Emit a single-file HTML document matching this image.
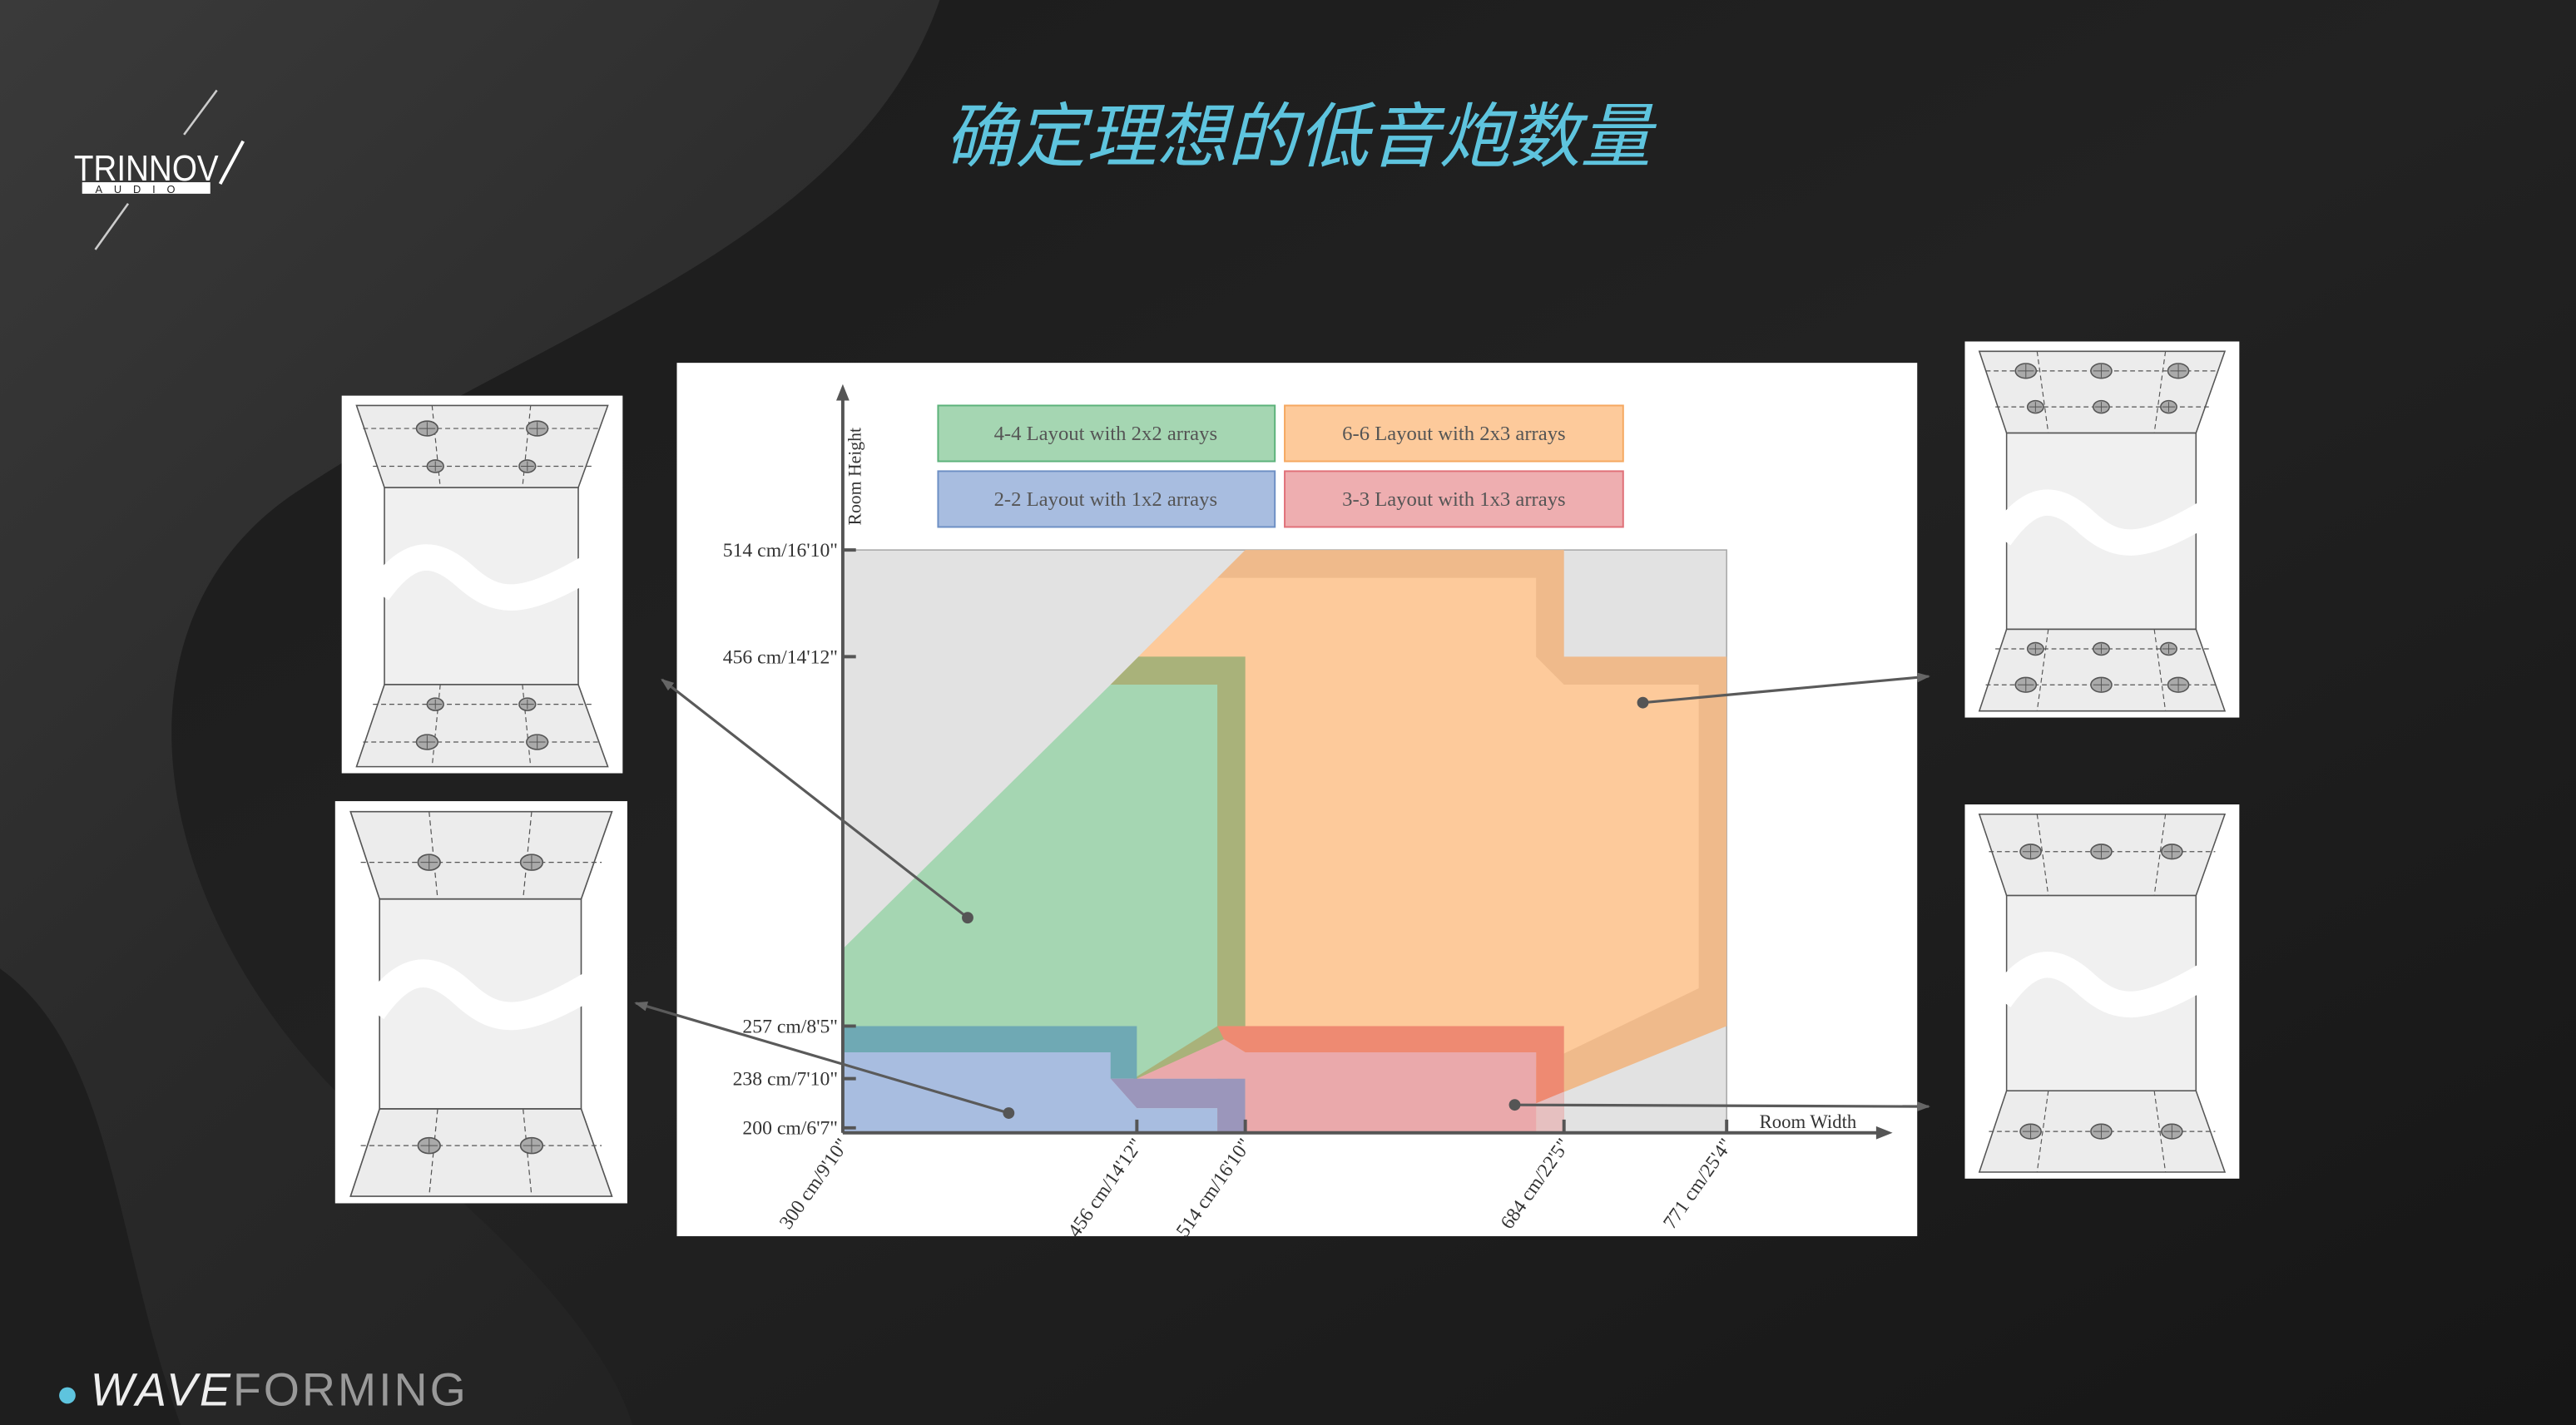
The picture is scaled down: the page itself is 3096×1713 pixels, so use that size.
<!DOCTYPE html>
<html><head><meta charset="utf-8"><style>
html,body{margin:0;padding:0;background:#1b1b1b;}
svg{display:block}
</style></head><body>
<svg width="3096" height="1713" viewBox="0 0 1568 868" preserveAspectRatio="none" xmlns="http://www.w3.org/2000/svg">
<defs>
<linearGradient id="bg" x1="0" y1="0" x2="1" y2="1">
<stop offset="0" stop-color="#1a1a1a"/><stop offset="0.5" stop-color="#222"/><stop offset="1" stop-color="#161616"/>
</linearGradient>
<linearGradient id="sw" x1="0" y1="0" x2="0.6" y2="1">
<stop offset="0" stop-color="#3a3a3a"/><stop offset="0.6" stop-color="#2a2a2a"/><stop offset="1" stop-color="#232323"/>
</linearGradient>
<marker id="ar" markerWidth="8" markerHeight="8" refX="7" refY="4" orient="auto" markerUnits="userSpaceOnUse"><path d="M0,1 L8,4 L0,7 Z" fill="#666"/></marker>
<g id="spk"><ellipse cx="0" cy="0" rx="6.5" ry="4.5" fill="#aaa" stroke="#555" stroke-width="0.8"/><path d="M-5,0 H5 M0,-4 V4" stroke="#555" stroke-width="0.5"/></g>
<g id="spks"><ellipse cx="0" cy="0" rx="5" ry="3.8" fill="#aaa" stroke="#555" stroke-width="0.8"/><path d="M-4,0 H4 M0,-3 V3" stroke="#555" stroke-width="0.5"/></g>
<g id="frame">
<rect x="0" y="0" width="171" height="230" fill="#fff"/>
<path d="M9,6 H162 L144,56 H26 Z" fill="#ececec" stroke="#555" stroke-width="0.8"/>
<rect x="26" y="56" width="118" height="120" fill="#f0f0f0" stroke="#555" stroke-width="0.8"/>
<path d="M26,176 H144 L162,226 H9 Z" fill="#ececec" stroke="#555" stroke-width="0.8"/>
<path d="M22,120 C40,95 55,92 75,110 C95,128 110,128 150,105" fill="none" stroke="#fff" stroke-width="16"/>
</g>
</defs>
<rect width="1568" height="868" fill="url(#bg)"/>
<path d="M0,0 L572,0 C520,150 330,200 180,300 C60,380 90,560 220,680 C320,760 370,820 385,868 L0,868 Z" fill="url(#sw)"/>
<path d="M0,590 C70,640 70,760 110,868 L0,868 Z" fill="#1e1e1e"/>

<!-- logo -->
<path d="M132,55 L112,82" stroke="#ccc" stroke-width="1.3"/>
<path d="M78,124 L58,152" stroke="#ccc" stroke-width="1.3"/>
<text x="45" y="110" font-family="Liberation Sans, sans-serif" font-size="22" fill="#fff" textLength="88" lengthAdjust="spacingAndGlyphs">TRINNOV</text>
<path d="M134,112 L148,86" stroke="#fff" stroke-width="2"/>
<rect x="50" y="111" width="78" height="7" fill="#fff"/>
<text x="58" y="117.5" font-family="Liberation Sans, sans-serif" font-size="6.5" fill="#222" letter-spacing="7">AUDIO</text>

<text x="790" y="98" text-anchor="middle" font-family="Liberation Sans, 'Noto Sans CJK SC', sans-serif" font-size="43" font-style="italic" fill="#5ec4de" textLength="430" lengthAdjust="spacingAndGlyphs">确定理想的低音炮数量</text>

<circle cx="41" cy="850" r="5" fill="#5ec4de"/>
<text x="55" y="856" font-family="Liberation Sans, sans-serif" font-size="28" letter-spacing="1.5" textLength="230" lengthAdjust="spacingAndGlyphs"><tspan fill="#eee" font-style="italic">WAVE</tspan><tspan fill="#999">FORMING</tspan></text>

<!-- chart -->
<rect x="412" y="221" width="755" height="532" fill="#fff"/>
<rect x="513" y="335" width="538" height="355" fill="#e2e2e2" stroke="#aaa" stroke-width="0.8"/>
<path d="M676,417 L758,335 L952,335 L952,400 L1051,400 L1051,625 L935,672 L935,690 L741,690 L741,417 Z" fill="#efba8b"/>
<path d="M741,352 L935,352 L935,400 L952,417 L1034,417 L1034,602 L935,650 L935,690 L758,690 L758,400 L693,400 Z" fill="#fdca9b"/>
<path d="M693,400 L758,400 L758,628 L690,660 L676,417 Z" fill="#a9b27a"/>
<path d="M513,578 L676,417 L741,417 L741,625 L690,657 L513,657 Z" fill="#a5d6b2"/>
<path d="M513,625 L692,625 L692,657 L513,657 Z" fill="#6fa9b4"/>
<path d="M513,641 L676,641 L676,657 L692,675 L741,675 L741,690 L513,690 Z" fill="#a8bde0"/>
<path d="M676,657 L758,657 L758,690 L741,690 L741,675 L692,675 Z" fill="#9b96bb"/>
<path d="M741,625 L952,625 L952,690 L935,690 L935,641 L758,641 L745,633 Z" fill="#ee8a72"/>
<path d="M692,657 L745,633 L758,641 L935,641 L935,690 L758,690 L758,657 Z" fill="#eaa9ab"/>
<path d="M935,672 L952,665 L952,690 L935,690 Z" fill="#e6c0c0"/>

<!-- axes -->
<path d="M513,690 V238" stroke="#555" stroke-width="2"/>
<path d="M509,244 L513,234 L517,244" fill="#555"/>
<path d="M513,690 H1145" stroke="#555" stroke-width="2"/>
<path d="M1142,686 L1152,690 L1142,694 Z" fill="#555"/>
<g stroke="#555" stroke-width="2">
<path d="M513,335 H521 M513,400 H521 M513,625 H521 M513,657 H521 M513,687 H521"/>
<path d="M692,682 V690 M758,682 V690 M952,682 V690 M1051,682 V690"/>
</g>
<g font-family="Liberation Serif, serif" font-size="12" fill="#333" text-anchor="end">
<text x="510" y="339">514 cm/16'10"</text>
<text x="510" y="404">456 cm/14'12"</text>
<text x="510" y="629">257 cm/8'5"</text>
<text x="510" y="661">238 cm/7'10"</text>
<text x="510" y="691">200 cm/6'7"</text>
<text transform="translate(517,697) rotate(-55)">300 cm/9'10"</text>
<text transform="translate(696,697) rotate(-55)">456 cm/14'12"</text>
<text transform="translate(762,697) rotate(-55)">514 cm/16'10"</text>
<text transform="translate(956,697) rotate(-55)">684 cm/22'5"</text>
<text transform="translate(1055,697) rotate(-55)">771 cm/25'4"</text>
</g>
<text transform="translate(524,320) rotate(-90)" font-family="Liberation Serif, serif" font-size="11" fill="#333">Room Height</text>
<text x="1071" y="687" font-family="Liberation Serif, serif" font-size="11.5" fill="#333">Room Width</text>

<!-- legend -->
<g font-family="Liberation Serif, serif" font-size="12.5" fill="#555" text-anchor="middle">
<rect x="571" y="247" width="205" height="34" fill="#a5d6b2" stroke="#5cb27a"/>
<text x="673" y="268">4-4 Layout with 2x2 arrays</text>
<rect x="782" y="247" width="206" height="34" fill="#fdca9b" stroke="#f5a860"/>
<text x="885" y="268">6-6 Layout with 2x3 arrays</text>
<rect x="571" y="287" width="205" height="34" fill="#a8bde0" stroke="#6d8fc4"/>
<text x="673" y="308">2-2 Layout with 1x2 arrays</text>
<rect x="782" y="287" width="206" height="34" fill="#eeaeb0" stroke="#e07078"/>
<text x="885" y="308">3-3 Layout with 1x3 arrays</text>
</g>

<!-- connectors -->
<g stroke="#5a5a5a" stroke-width="1.6" fill="none">
<path d="M589,559 L403,414" marker-end="url(#ar)"/>
<path d="M614,678 L387,611" marker-end="url(#ar)"/>
<path d="M1000,428 L1174,412" marker-end="url(#ar)"/>
<path d="M922,673 L1174,674" marker-end="url(#ar)"/>
</g>
<g fill="#555"><circle cx="589" cy="559" r="3.5"/><circle cx="614" cy="678" r="3.5"/><circle cx="1000" cy="428" r="3.5"/><circle cx="922" cy="673" r="3.5"/></g>

<!-- panels -->
<g transform="translate(208,241)">
<use href="#frame"/>
<g stroke="#555" stroke-width="0.6" stroke-dasharray="3,2" fill="none">
<path d="M13,20 H158 M19,43 H152 M19,188 H152 M13,211 H158"/>
<path d="M55,6 L60,56 M115,6 L110,56 M60,176 L55,226 M110,176 L115,226"/>
</g>
<use href="#spk" x="52" y="20"/><use href="#spk" x="119" y="20"/>
<use href="#spks" x="57" y="43"/><use href="#spks" x="113" y="43"/>
<use href="#spks" x="57" y="188"/><use href="#spks" x="113" y="188"/>
<use href="#spk" x="52" y="211"/><use href="#spk" x="119" y="211"/>
</g>
<g transform="translate(204,488) scale(1.04,1.065)">
<use href="#frame"/>
<g stroke="#555" stroke-width="0.6" stroke-dasharray="3,2" fill="none">
<path d="M15,35 H156 M15,197 H156"/>
<path d="M55,6 L60,56 M115,6 L110,56 M60,176 L55,226 M110,176 L115,226"/>
</g>
<use href="#spk" x="55" y="35"/><use href="#spk" x="115" y="35"/>
<use href="#spk" x="55" y="197"/><use href="#spk" x="115" y="197"/>
</g>
<g transform="translate(1196,208) scale(0.977,0.996)">
<use href="#frame"/>
<g stroke="#555" stroke-width="0.6" stroke-dasharray="3,2" fill="none">
<path d="M13,18 H158 M19,40 H152 M19,188 H152 M13,210 H158"/>
<path d="M45,6 L52,56 M125,6 L118,56 M52,176 L45,226 M118,176 L125,226"/>
</g>
<use href="#spk" x="38" y="18"/><use href="#spk" x="85" y="18"/><use href="#spk" x="133" y="18"/>
<use href="#spks" x="44" y="40"/><use href="#spks" x="85" y="40"/><use href="#spks" x="127" y="40"/>
<use href="#spks" x="44" y="188"/><use href="#spks" x="85" y="188"/><use href="#spks" x="127" y="188"/>
<use href="#spk" x="38" y="210"/><use href="#spk" x="85" y="210"/><use href="#spk" x="133" y="210"/>
</g>
<g transform="translate(1196,490) scale(0.977,0.991)">
<use href="#frame"/>
<g stroke="#555" stroke-width="0.6" stroke-dasharray="3,2" fill="none">
<path d="M15,29 H156 M15,201 H156"/>
<path d="M45,6 L52,56 M125,6 L118,56 M52,176 L45,226 M118,176 L125,226"/>
</g>
<use href="#spk" x="41" y="29"/><use href="#spk" x="85" y="29"/><use href="#spk" x="129" y="29"/>
<use href="#spk" x="41" y="201"/><use href="#spk" x="85" y="201"/><use href="#spk" x="129" y="201"/>
</g>
</svg>
</body></html>
